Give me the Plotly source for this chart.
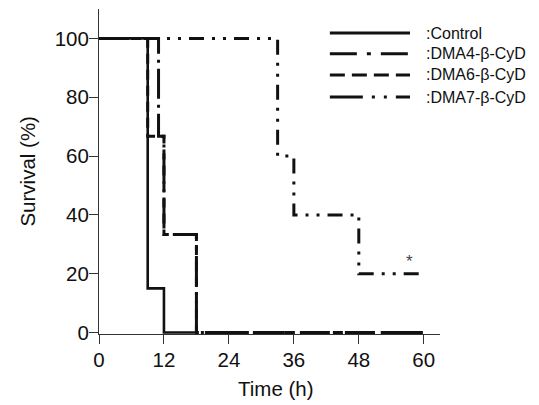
import plotly.graph_objects as go

# ---- data ----
control_t = [0, 9, 12, 18]
control_s = [100, 15, 0, 0]

dma4_t = [0, 11, 12, 18, 60]
dma4_s = [100, 66.7, 33.3, 0, 0]

dma6_t = [0, 9, 12, 18, 60]
dma6_s = [100, 66.7, 33.3, 0, 0]

dma7_t = [0, 33, 36, 48, 60]
dma7_s = [100, 60, 40, 20, 20]

series_names = [":Control", ":DMA4-β-CyD", ":DMA6-β-CyD", ":DMA7-β-CyD"]
x_ticks = [0, 12, 24, 36, 48, 60]
y_ticks = [0, 20, 40, 60, 80, 100]

FONT = "Liberation Sans, Arial, Helvetica, sans-serif"

fig = go.Figure()

fig.add_trace(go.Scatter(x=dma6_t, y=dma6_s, mode="lines", line_shape="hv",
                         line=dict(color="#111", width=3, dash="10px,6px"),
                         showlegend=False))
fig.add_trace(go.Scatter(x=dma4_t, y=dma4_s, mode="lines", line_shape="hv",
                         line=dict(color="#111", width=3, dash="30px,6px,3px,6px"),
                         showlegend=False))
fig.add_trace(go.Scatter(x=dma7_t, y=dma7_s, mode="lines", line_shape="hv",
                         line=dict(color="#111", width=3,
                                   dash="15px,8px,3px,8px,3px,8px"),
                         showlegend=False))
fig.add_trace(go.Scatter(x=control_t, y=control_s, mode="lines", line_shape="hv",
                         line=dict(color="#111", width=2.6),
                         showlegend=False))

# asterisk
fig.add_annotation(x=57.3, y=24, text="*", showarrow=False,
                   font=dict(size=17, color="#444", family=FONT))

# manual legend
leg_dash = ["solid", "27px,10px,4px,10px", "15px,7px", "33px,9px,3px,9px,3px,9px"]
leg_y = [0.926, 0.862, 0.797, 0.729]
for name, d, yy in zip(series_names, leg_dash, leg_y):
    fig.add_shape(type="line", xref="paper", yref="paper",
                  x0=0.677, x1=0.912, y0=yy, y1=yy,
                  line=dict(color="#111", width=3, dash=d))
    fig.add_annotation(xref="paper", yref="paper", x=0.953, y=yy,
                       xanchor="left", yanchor="middle", showarrow=False,
                       text=name, font=dict(size=16, color="#111", family=FONT))

# axis titles
fig.add_annotation(xref="paper", yref="paper", x=0.519, y=-0.169,
                   xanchor="center", yanchor="middle", showarrow=False,
                   text="Time (h)", font=dict(size=20.5, color="#111", family=FONT))
fig.add_annotation(xref="paper", yref="paper", x=-0.211, y=0.5,
                   xanchor="center", yanchor="middle", showarrow=False,
                   textangle=-90,
                   text="Survival (%)", font=dict(size=20.5, color="#111", family=FONT))

# page body has an 8px margin, so the figure is 8px smaller and offsets shifted
fig.update_layout(
    width=531, height=397,
    margin=dict(l=91, r=99, t=1, b=71, autoexpand=False),
    paper_bgcolor="white", plot_bgcolor="white",
    font=dict(family=FONT, size=20.5, color="#111"),
    showlegend=False,
)
fig.update_xaxes(range=[0, 63], tickvals=x_ticks, ticks="outside", ticklen=9,
                 tickwidth=1, tickcolor="#333", showline=True, linecolor="#333",
                 linewidth=1, showgrid=False, zeroline=False, automargin=False,
                 ticklabelstandoff=-2,
                 tickfont=dict(size=20.5))
fig.update_yaxes(range=[-0.5, 110], tickvals=y_ticks, ticks="outside", ticklen=9,
                 tickwidth=1, tickcolor="#333", showline=True, linecolor="#333",
                 linewidth=1, showgrid=False, zeroline=False, automargin=False,
                 ticklabelstandoff=-4,
                 tickfont=dict(size=20.5))

fig.write_html("out.html")
